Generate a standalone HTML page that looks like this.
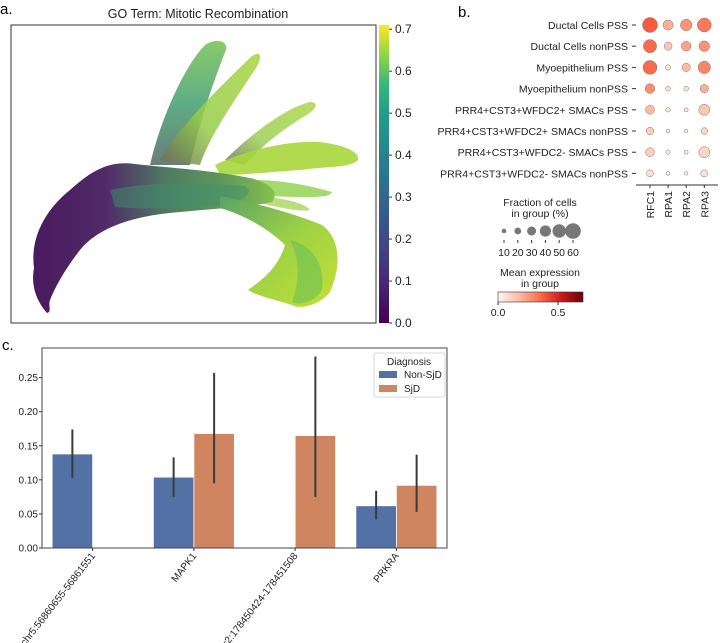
<!DOCTYPE html>
<html><head><meta charset="utf-8">
<style>
body{margin:0;background:#fff;}
svg{display:block;font-family:"Liberation Sans","DejaVu Sans",sans-serif;}
</style></head>
<body>
<svg id="fig" width="720" height="643" viewBox="0 0 720 643" xmlns="http://www.w3.org/2000/svg">
<defs>
  <linearGradient id="viridis" x1="0" y1="1" x2="0" y2="0">
    <stop offset="0" stop-color="#440154"/><stop offset="0.14" stop-color="#482878"/>
    <stop offset="0.28" stop-color="#3e4989"/><stop offset="0.42" stop-color="#31688e"/>
    <stop offset="0.56" stop-color="#26828e"/><stop offset="0.7" stop-color="#1f9e89"/>
    <stop offset="0.8" stop-color="#35b779"/><stop offset="0.9" stop-color="#8fd744"/>
    <stop offset="1" stop-color="#fde725"/>
  </linearGradient>
  <linearGradient id="reds" x1="0" y1="0" x2="1" y2="0">
    <stop offset="0" stop-color="#fff5f0"/><stop offset="0.25" stop-color="#fcbba1"/>
    <stop offset="0.5" stop-color="#fb6a4a"/><stop offset="0.75" stop-color="#cb181d"/>
    <stop offset="1" stop-color="#67000d"/>
  </linearGradient>
  <linearGradient id="bodyGrad" x1="0" y1="0" x2="1" y2="0">
    <stop offset="0" stop-color="#4a1a5e"/><stop offset="0.3" stop-color="#502a68"/>
    <stop offset="0.55" stop-color="#4f7a62"/><stop offset="0.8" stop-color="#5f9a5a"/><stop offset="1" stop-color="#86c04c"/>
  </linearGradient>
  <linearGradient id="fanGrad" x1="0" y1="0" x2="1" y2="1">
    <stop offset="0" stop-color="#5aa266"/><stop offset="0.5" stop-color="#9ed244"/><stop offset="1" stop-color="#c5df36"/>
  </linearGradient>
  <linearGradient id="pet1" x1="0" y1="1" x2="0" y2="0">
    <stop offset="0" stop-color="#5a6e6a"/><stop offset="0.5" stop-color="#4ca578"/><stop offset="1" stop-color="#7ec45a"/>
  </linearGradient>
  <linearGradient id="pet2" x1="0" y1="1" x2="1" y2="0">
    <stop offset="0" stop-color="#6a6a5a"/><stop offset="0.4" stop-color="#96cc48"/><stop offset="1" stop-color="#a8d43e"/>
  </linearGradient>
</defs>

<!-- Panel a -->
<g>
  <text x="0" y="14" font-size="15">a.</text>
  <text x="198" y="18" font-size="12.5" text-anchor="middle" fill="#222">GO Term: Mitotic Recombination</text>
  <rect x="11" y="25" width="365" height="298" fill="#fff" stroke="#333" stroke-width="1"/>
  <g>
    <path d="M150,165 C160,120 185,65 205,45 C215,38 228,40 226,50 C214,80 200,120 190,165 Z" fill="url(#pet1)" opacity="0.9"/>
    <path d="M160,160 C180,125 225,82 252,56 C262,50 262,58 256,68 C235,100 210,135 200,165 Z" fill="url(#pet2)" opacity="0.85"/>
    <path d="M225,160 C250,135 285,108 310,102 C320,102 316,110 305,116 C285,128 262,145 245,165 Z" fill="url(#pet2)" opacity="0.8"/>
    <path d="M215,165 C245,150 290,140 320,142 C345,145 360,152 358,160 C350,168 330,166 300,170 C270,172 245,175 220,175 Z" fill="#a8d63c" opacity="0.9"/>
    <path d="M230,180 C270,178 305,184 332,192 C330,198 310,198 270,196 Z" fill="#8ccf48" opacity="0.8"/>
    <path d="M250,195 C285,198 305,203 310,210 C300,212 280,208 260,203 Z" fill="#9cd043" opacity="0.7"/>
    <path d="M34,268 C30,238 45,210 70,190 C90,172 108,160 135,164 C170,168 210,170 250,178 C270,183 280,192 272,202 C250,207 220,208 180,212 C140,215 100,225 80,250 C66,268 56,285 50,300 C48,306 52,312 47,313 C40,305 30,290 34,268 Z" fill="url(#bodyGrad)"/>
    <path d="M110,190 C160,180 200,184 245,186 C255,192 245,202 220,205 C180,208 150,210 115,207 Z" fill="#3f8f6e" opacity="0.5"/>
    <path d="M220,196 C255,203 290,212 322,225 C340,238 342,265 330,292 C320,305 300,310 292,305 C275,300 255,295 248,290 C262,280 278,268 285,245 C270,230 245,215 220,208 Z" fill="url(#fanGrad)"/>
    <path d="M290,240 C310,245 325,260 322,290 C315,302 300,306 292,302 C300,280 300,260 290,240 Z" fill="#6dbf57" opacity="0.6"/>
  </g>
  <rect x="379" y="25" width="10" height="298" fill="url(#viridis)"/>
  <g id="cbticks" font-size="12" fill="#222"></g>
</g>

<!-- Panel b -->
<g>
  <text x="458" y="17" font-size="15">b.</text>
  <g id="dotplot"></g>
  <line x1="636" y1="185" x2="718" y2="185" stroke="#333" stroke-width="1"/>
  <text x="540" y="206" font-size="10.5" text-anchor="middle" fill="#222">Fraction of cells</text>
  <text x="540" y="217" font-size="10.5" text-anchor="middle" fill="#222">in group (%)</text>
  <g id="sizeleg"></g>
  <text x="540" y="276" font-size="10.5" text-anchor="middle" fill="#222">Mean expression</text>
  <text x="540" y="287" font-size="10.5" text-anchor="middle" fill="#222">in group</text>
  <rect x="498" y="292" width="85" height="10" fill="url(#reds)" stroke="#333" stroke-width="0.6"/>
  <line x1="498" y1="302" x2="498" y2="305" stroke="#333"/><line x1="558" y1="302" x2="558" y2="305" stroke="#333"/>
  <text x="498" y="316" font-size="10.5" text-anchor="middle" fill="#222">0.0</text>
  <text x="558" y="316" font-size="10.5" text-anchor="middle" fill="#222">0.5</text>
</g>

<!-- Panel c -->
<g>
  <text x="2" y="350" font-size="15">c.</text>
  <g id="barchart"></g>
</g>
</svg>

<script>
const NS = "http://www.w3.org/2000/svg";
function mk(tag, attrs, parent, text){const e=document.createElementNS(NS,tag);for(const k in attrs)e.setAttribute(k,attrs[k]);if(text!==undefined)e.textContent=text;parent.appendChild(e);return e;}

// ---- Panel a colorbar ticks ----
const cbTicks = [0.0,0.1,0.2,0.3,0.4,0.5,0.6,0.7];
const cbMax = 0.71;
(function(){
  const g=document.getElementById('cbticks');
  const y=v=>323-(v/cbMax)*298;
  cbTicks.forEach(v=>{
    mk('line',{x1:389,x2:392,y1:y(v),y2:y(v),stroke:'#333'},g);
    const t=mk('text',{x:395,y:y(v)+4},g,v.toFixed(1));
    
    
  });
})();

// ---- Panel b dotplot ----
const groups = ["Ductal Cells  PSS","Ductal Cells  nonPSS","Myoepithelium  PSS","Myoepithelium  nonPSS","PRR4+CST3+WFDC2+ SMACs  PSS","PRR4+CST3+WFDC2+ SMACs  nonPSS","PRR4+CST3+WFDC2- SMACs  PSS","PRR4+CST3+WFDC2- SMACs  nonPSS"];
const genes = ["RFC1","RPA1","RPA2","RPA3"];
const fracRFC1 = [60,52,55,36,32,26,32,24];
const fracRPA1 = [38,28,16,14,12,10,12,10];
const fracRPA2 = [44,36,30,14,10,8,10,8];
const fracRPA3 = [55,40,48,30,42,22,42,24];
const exprRFC1 = [0.38,0.35,0.35,0.27,0.17,0.13,0.13,0.09];
const exprRPA1 = [0.2,0.15,0.08,0.08,0.07,0.05,0.05,0.04];
const exprRPA2 = [0.26,0.23,0.17,0.09,0.06,0.04,0.04,0.03];
const exprRPA3 = [0.32,0.26,0.29,0.2,0.15,0.11,0.11,0.08];
const sizeLegend = [10,20,30,40,50,60];
const exprMax = 0.7;
const redStops=[[255,245,240],[254,224,210],[252,187,161],[252,146,114],[251,106,74],[239,59,44],[203,24,29],[165,15,21],[103,0,13]];
function reds(v){let t=Math.max(0,Math.min(1,v/exprMax))*8;const i=Math.min(7,Math.floor(t));const f=t-i;const a=redStops[i],b=redStops[i+1];return `rgb(${a.map((c,k)=>Math.round(c+(b[k]-c)*f)).join(',')})`;}
const rScale=f=>2+(f-10)*0.11;
(function(){
  const g=document.getElementById('dotplot');
  const rowY=i=>25+i*21.2;
  const colX=j=>650+j*18.1;
  const fr=[fracRFC1,fracRPA1,fracRPA2,fracRPA3], ex=[exprRFC1,exprRPA1,exprRPA2,exprRPA3];
  groups.forEach((name,i)=>{
    const t=mk('text',{x:628,y:rowY(i)+4,'font-size':10.5,'text-anchor':'end',fill:'#222','xml:space':'preserve'},g,name);
    
    
    mk('line',{x1:632,x2:636,y1:rowY(i),y2:rowY(i),stroke:'#333'},g);
    genes.forEach((gn,j)=>{
      const c=mk('circle',{cx:colX(j),cy:rowY(i),r:rScale(fr[j][i]),fill:reds(ex[j][i]),stroke:'#777','stroke-width':0.5},g);
      
      
    });
  });
  genes.forEach((gn,j)=>{
    mk('line',{x1:colX(j),x2:colX(j),y1:185,y2:188,stroke:'#333'},g);
    const t=mk('text',{x:0,y:0,'font-size':10.5,'text-anchor':'end',fill:'#222',transform:`translate(${colX(j)+4},191) rotate(-90)`},g,gn);
    
    
  });
  const sg=document.getElementById('sizeleg');
  sizeLegend.forEach((f,k)=>{
    const x=504+k*13.8;
    const c=mk('circle',{cx:x,cy:231,r:rScale(f)+0.3,fill:'#777'},sg);
    
    
    mk('line',{x1:x,x2:x,y1:240,y2:243,stroke:'#333'},sg);
    mk('text',{x:x,y:256,'font-size':10.5,'text-anchor':'middle',fill:'#222'},sg,String(f));
  });
})();

// ---- Panel c bar chart ----
const categories = ["chr5:56860655-56861551","MAPK1","chr2:178450424-178451508","PRKRA"];
const nonSjD = [0.138,0.104,0,0.062];
const sjD = [0,0.168,0.165,0.092];
const nonSjDLo = [0.103,0.075,0,0.042];
const nonSjDHi = [0.174,0.133,0,0.084];
const sjDLo = [0,0.095,0.075,0.053];
const sjDHi = [0,0.257,0.281,0.137];
const yTicks = [0,0.05,0.1,0.15,0.2,0.25];
(function(){
  const g=document.getElementById('barchart');
  const L=42,R=447,T=348,B=548,ymax=0.2935;
  const y=v=>B-(v/ymax)*(B-T);
  const unit=(R-L)/categories.length;
  const cx=i=>L+unit*(i+0.5);
  const bw=unit*0.4;
  mk('rect',{x:L,y:T,width:R-L,height:B-T,fill:'#fff'},g);
  yTicks.forEach(v=>{
    mk('line',{x1:L-3,x2:L,y1:y(v),y2:y(v),stroke:'#333'},g);
    const t=mk('text',{x:L-4,y:y(v)+3.5,'font-size':10,'text-anchor':'end',fill:'#222'},g,v.toFixed(2));
    
    
  });
  const series=[[nonSjD,nonSjDLo,nonSjDHi,'#5471a6',-1],[sjD,sjDLo,sjDHi,'#cf8560',0]];
  series.forEach(([vals,lo,hi,col,off])=>{
    vals.forEach((v,i)=>{
      const x=cx(i)+off*bw;
      if(v>0){
        const r=mk('rect',{x:x,y:y(v),width:bw,height:B-y(v),fill:col,stroke:'#fff','stroke-width':0.8},g);
        
        
        const e=mk('line',{x1:x+bw/2,x2:x+bw/2,y1:y(lo[i]),y2:y(hi[i]),stroke:'#3a3a3a','stroke-width':2},g);
        
        
      }
    });
  });
  mk('rect',{x:L,y:T,width:R-L,height:B-T,fill:'none',stroke:'#444','stroke-width':1},g);
  categories.forEach((c,i)=>{
    mk('line',{x1:cx(i),x2:cx(i),y1:B,y2:B+3,stroke:'#333'},g);
    const t=mk('text',{x:0,y:0,'font-size':10,'text-anchor':'end',fill:'#222',transform:`translate(${cx(i)+3},${B+8}) rotate(-52)`},g,c);
    
    
  });
  const lg=mk('g',{},g);
  
  
  mk('rect',{x:374,y:353,width:71,height:44,fill:'#fff',stroke:'#ccc','stroke-width':0.8,rx:2},lg);
  mk('text',{x:409,y:365,'font-size':10,'text-anchor':'middle',fill:'#222'},lg,'Diagnosis');
  const e1=mk('rect',{x:379,y:371,width:18,height:7,fill:'#5471a6'},lg);
  
  
  mk('text',{x:404,y:378,'font-size':10,fill:'#222'},lg,'Non-SjD');
  const e2=mk('rect',{x:379,y:385,width:18,height:7,fill:'#cf8560'},lg);
  
  
  mk('text',{x:404,y:392,'font-size':10,fill:'#222'},lg,'SjD');
})();
</script>
</body></html>
